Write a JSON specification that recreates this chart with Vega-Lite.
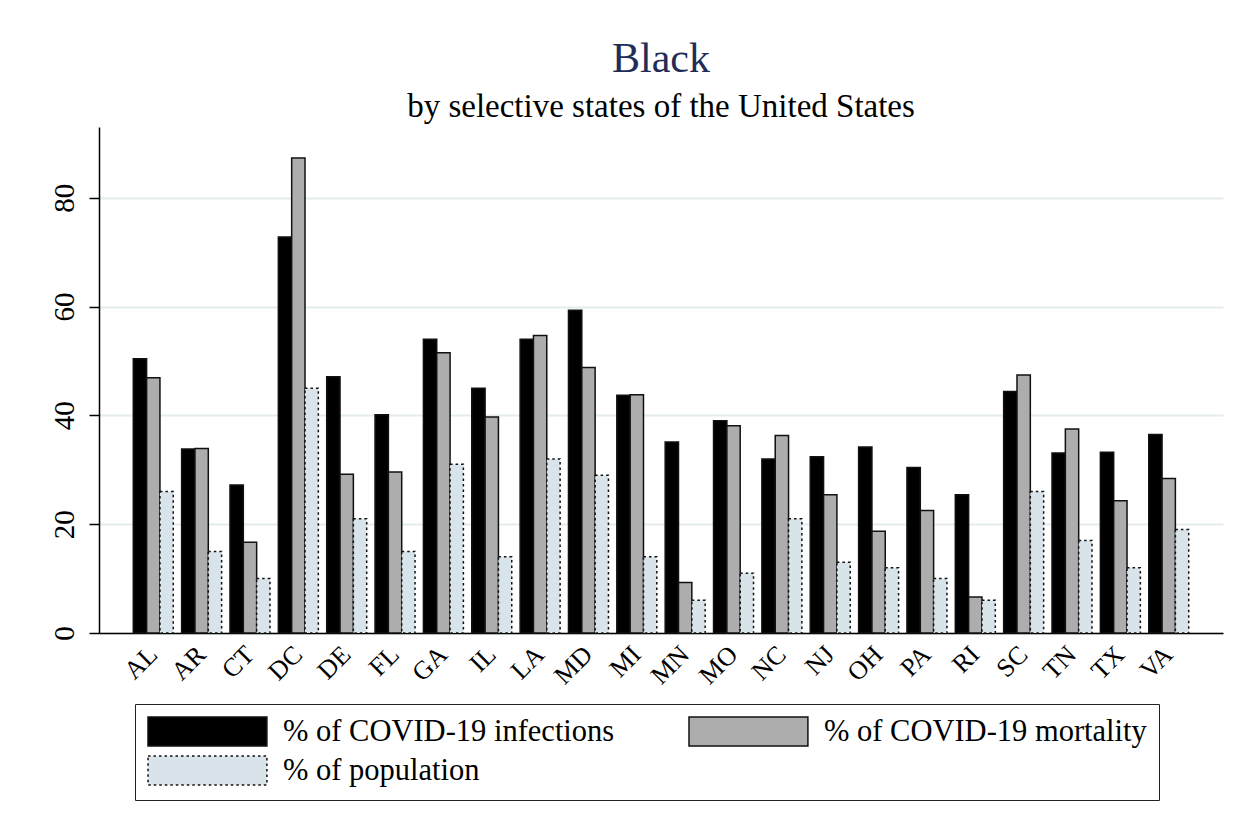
{
  "$schema": "https://vega.github.io/schema/vega-lite/v6.json",
  "width": 1124,
  "height": 506,
  "autosize": {"type": "none"},
  "padding": {"left": 99, "top": 127, "right": 30, "bottom": 200},
  "background": "white",
  "config": {
    "font": "Liberation Serif",
    "view": {"stroke": null},
    "axis": {"labelFont": "Liberation Serif"},
    "legend": {"labelFont": "Liberation Serif"}
  },
  "title": {
    "text": "Black",
    "subtitle": "by selective states of the United States",
    "font": "Liberation Serif",
    "fontSize": 42,
    "fontWeight": "normal",
    "color": "#1f2d58",
    "subtitleFont": "Liberation Serif",
    "subtitleFontSize": 33,
    "subtitleColor": "#000000",
    "subtitlePadding": 10,
    "anchor": "middle",
    "offset": 2
  },
  "data": {
    "values": [
      {"state": "AL", "series": "% of COVID-19 infections", "value": 50.4},
      {"state": "AL", "series": "% of COVID-19 mortality", "value": 46.9},
      {"state": "AL", "series": "% of population", "value": 26},
      {"state": "AR", "series": "% of COVID-19 infections", "value": 33.8},
      {"state": "AR", "series": "% of COVID-19 mortality", "value": 33.9},
      {"state": "AR", "series": "% of population", "value": 15},
      {"state": "CT", "series": "% of COVID-19 infections", "value": 27.2},
      {"state": "CT", "series": "% of COVID-19 mortality", "value": 16.7},
      {"state": "CT", "series": "% of population", "value": 10},
      {"state": "DC", "series": "% of COVID-19 infections", "value": 72.8},
      {"state": "DC", "series": "% of COVID-19 mortality", "value": 87.3},
      {"state": "DC", "series": "% of population", "value": 45},
      {"state": "DE", "series": "% of COVID-19 infections", "value": 47.1},
      {"state": "DE", "series": "% of COVID-19 mortality", "value": 29.2},
      {"state": "DE", "series": "% of population", "value": 21},
      {"state": "FL", "series": "% of COVID-19 infections", "value": 40.1},
      {"state": "FL", "series": "% of COVID-19 mortality", "value": 29.6},
      {"state": "FL", "series": "% of population", "value": 15},
      {"state": "GA", "series": "% of COVID-19 infections", "value": 54.0},
      {"state": "GA", "series": "% of COVID-19 mortality", "value": 51.5},
      {"state": "GA", "series": "% of population", "value": 31},
      {"state": "IL", "series": "% of COVID-19 infections", "value": 45.0},
      {"state": "IL", "series": "% of COVID-19 mortality", "value": 39.7},
      {"state": "IL", "series": "% of population", "value": 14},
      {"state": "LA", "series": "% of COVID-19 infections", "value": 54.0},
      {"state": "LA", "series": "% of COVID-19 mortality", "value": 54.7},
      {"state": "LA", "series": "% of population", "value": 32},
      {"state": "MD", "series": "% of COVID-19 infections", "value": 59.3},
      {"state": "MD", "series": "% of COVID-19 mortality", "value": 48.8},
      {"state": "MD", "series": "% of population", "value": 29},
      {"state": "MI", "series": "% of COVID-19 infections", "value": 43.7},
      {"state": "MI", "series": "% of COVID-19 mortality", "value": 43.8},
      {"state": "MI", "series": "% of population", "value": 14},
      {"state": "MN", "series": "% of COVID-19 infections", "value": 35.1},
      {"state": "MN", "series": "% of COVID-19 mortality", "value": 9.3},
      {"state": "MN", "series": "% of population", "value": 6},
      {"state": "MO", "series": "% of COVID-19 infections", "value": 39.0},
      {"state": "MO", "series": "% of COVID-19 mortality", "value": 38.1},
      {"state": "MO", "series": "% of population", "value": 11},
      {"state": "NC", "series": "% of COVID-19 infections", "value": 32.0},
      {"state": "NC", "series": "% of COVID-19 mortality", "value": 36.3},
      {"state": "NC", "series": "% of population", "value": 21},
      {"state": "NJ", "series": "% of COVID-19 infections", "value": 32.4},
      {"state": "NJ", "series": "% of COVID-19 mortality", "value": 25.4},
      {"state": "NJ", "series": "% of population", "value": 13},
      {"state": "OH", "series": "% of COVID-19 infections", "value": 34.2},
      {"state": "OH", "series": "% of COVID-19 mortality", "value": 18.7},
      {"state": "OH", "series": "% of population", "value": 12},
      {"state": "PA", "series": "% of COVID-19 infections", "value": 30.4},
      {"state": "PA", "series": "% of COVID-19 mortality", "value": 22.5},
      {"state": "PA", "series": "% of population", "value": 10},
      {"state": "RI", "series": "% of COVID-19 infections", "value": 25.4},
      {"state": "RI", "series": "% of COVID-19 mortality", "value": 6.6},
      {"state": "RI", "series": "% of population", "value": 6},
      {"state": "SC", "series": "% of COVID-19 infections", "value": 44.4},
      {"state": "SC", "series": "% of COVID-19 mortality", "value": 47.4},
      {"state": "SC", "series": "% of population", "value": 26},
      {"state": "TN", "series": "% of COVID-19 infections", "value": 33.1},
      {"state": "TN", "series": "% of COVID-19 mortality", "value": 37.5},
      {"state": "TN", "series": "% of population", "value": 17},
      {"state": "TX", "series": "% of COVID-19 infections", "value": 33.2},
      {"state": "TX", "series": "% of COVID-19 mortality", "value": 24.3},
      {"state": "TX", "series": "% of population", "value": 12},
      {"state": "VA", "series": "% of COVID-19 infections", "value": 36.5},
      {"state": "VA", "series": "% of COVID-19 mortality", "value": 28.4},
      {"state": "VA", "series": "% of population", "value": 19}
    ]
  },
  "mark": {"type": "bar", "stroke": "#111111", "strokeWidth": 1.5},
  "encoding": {
    "x": {
      "field": "state",
      "type": "nominal",
      "sort": null,
      "scale": {"paddingInner": 0.173, "paddingOuter": 0.709},
      "axis": {
        "title": null,
        "ticks": false,
        "labelAngle": -45,
        "labelAlign": "right",
        "labelBaseline": "middle",
        "labelFont": "Liberation Serif",
        "labelFontSize": 26,
        "labelColor": "#000000",
        "labelPadding": 17,
        "domainColor": "#000000",
        "domainWidth": 1.5,
        "grid": false
      }
    },
    "xOffset": {
      "field": "series",
      "type": "nominal",
      "sort": ["% of COVID-19 infections", "% of COVID-19 mortality", "% of population"],
      "scale": {"paddingInner": 0, "paddingOuter": 0}
    },
    "y": {
      "field": "value",
      "type": "quantitative",
      "scale": {"domain": [0, 93], "nice": false, "zero": true},
      "axis": {
        "title": null,
        "values": [0, 20, 40, 60, 80],
        "labelAngle": -90,
        "labelAlign": "center",
        "labelBaseline": "bottom",
        "labelFont": "Liberation Serif",
        "labelFontSize": 29,
        "labelColor": "#000000",
        "labelPadding": 10,
        "tickSize": 10,
        "tickColor": "#000000",
        "tickWidth": 1.5,
        "domainColor": "#000000",
        "domainWidth": 1.5,
        "grid": true,
        "gridColor": "#e3ecee",
        "gridWidth": 2
      }
    },
    "fill": {
      "field": "series",
      "type": "nominal",
      "sort": ["% of COVID-19 infections", "% of COVID-19 mortality", "% of population"],
      "scale": {
        "domain": ["% of COVID-19 infections", "% of COVID-19 mortality", "% of population"],
        "range": ["#000000", "#adadad", "#d8e4e9"]
      },
      "legend": {
        "title": null,
        "orient": "none",
        "legendX": 36,
        "legendY": 577,
        "direction": "horizontal",
        "columns": 2,
        "gridAlign": "all",
        "padding": 12,
        "strokeColor": "#222222",
        "fillColor": "#ffffff",
        "symbolType": "M-1,-1H7.2V1H-1Z",
        "symbolSize": 841,
        "symbolOpacity": 1,
        "labelFont": "Liberation Serif",
        "labelFontSize": 30.5,
        "labelColor": "#000000",
        "labelOffset": 105,
        "labelLimit": 800,
        "columnPadding": 71,
        "rowPadding": 4,
        "encode": {
          "legend": {
            "update": {
              "strokeWidth": {"value": 1.8}
            }
          },
          "symbols": {
            "update": {
              "stroke": {"value": "#222222"},
              "strokeWidth": {"value": 1.5},
              "strokeDash": [
                {"test": "datum.value === '% of population'", "value": [2.5, 3]},
                {"value": [1, 0]}
              ]
            }
          }
        }
      }
    },
    "strokeDash": {
      "field": "series",
      "type": "nominal",
      "sort": ["% of COVID-19 infections", "% of COVID-19 mortality", "% of population"],
      "scale": {
        "domain": ["% of COVID-19 infections", "% of COVID-19 mortality", "% of population"],
        "range": [[1, 0], [1, 0], [2.5, 3]]
      },
      "legend": null
    }
  }
}
